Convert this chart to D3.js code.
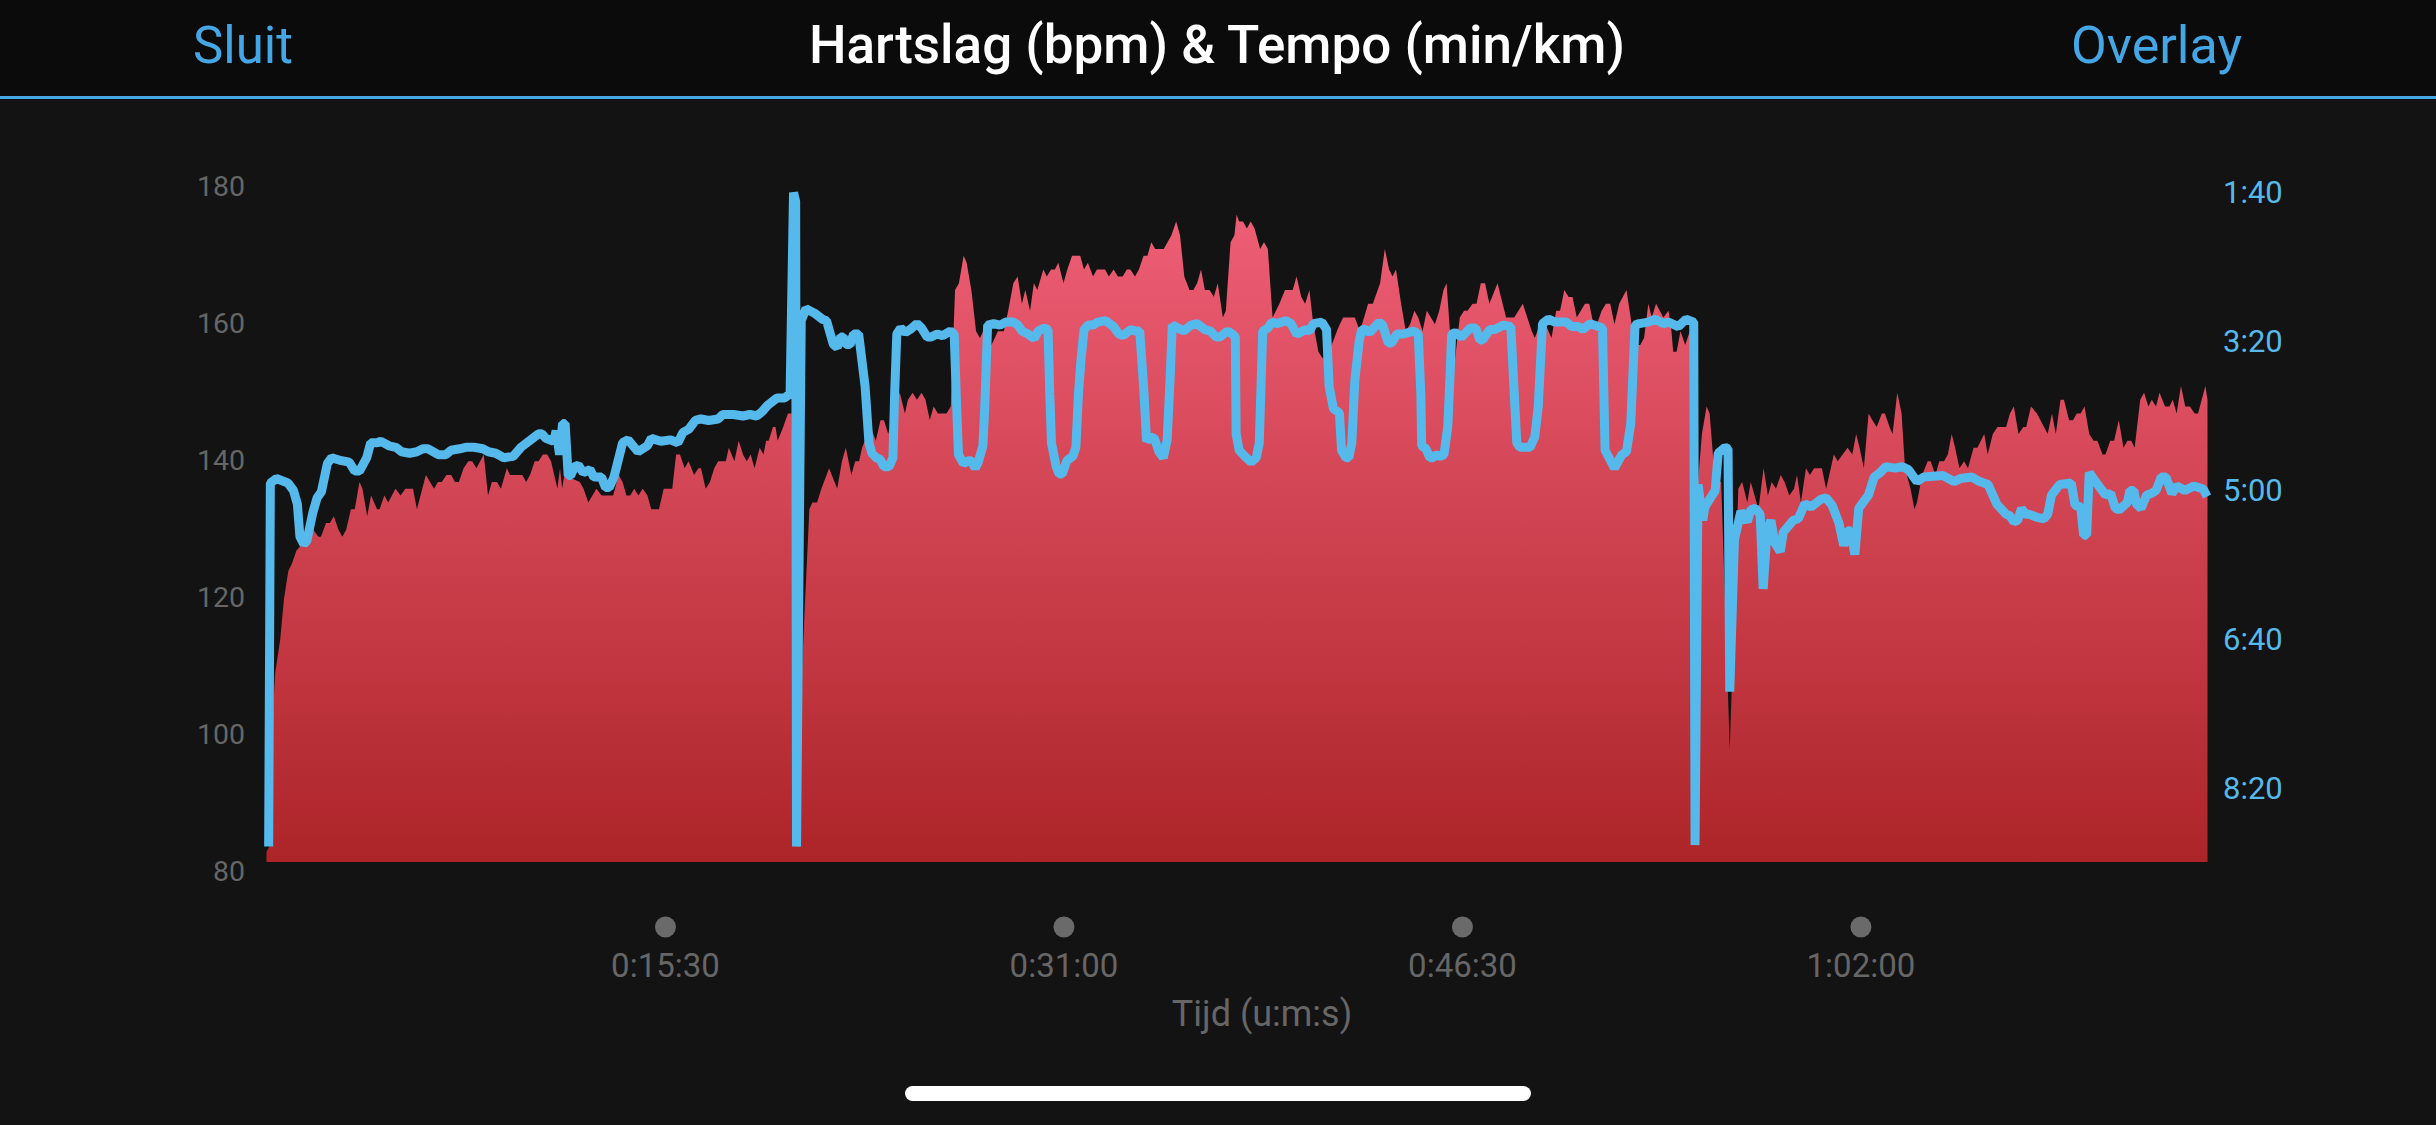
<!DOCTYPE html>
<html>
<head>
<meta charset="utf-8">
<script src="https://cdn.jsdelivr.net/npm/d3@7"></script>
<style>
html, body { margin: 0; padding: 0; background: #131313; overflow: hidden; }
svg { display: block; }
</style>
</head>
<body>
<script>
// [seconds, bpm]
var heartRate = [[0,82],[9,83],[14,101],[20,108],[32,113],[41,119],[51,123],[59,124],[70,126],[85,127],[97,127],[109,129],[121,128],[127,128],[139,130],[148,130],[157,131],[168,129],[177,128],[186,129],[197,132],[206,132],[217,136],[224,135],[235,131],[244,134],[258,132],[264,132],[275,134],[284,133],[301,135],[313,134],[324,135],[342,135],[351,132],[372,137],[391,135],[400,136],[409,136],[420,137],[431,137],[440,136],[449,136],[460,138],[471,139],[480,139],[490,138],[507,140],[517,134],[526,136],[538,136],[547,135],[561,138],[568,137],[597,137],[606,136],[615,137],[626,139],[635,139],[645,140],[655,140],[664,139],[679,135],[685,138],[690,135],[695,137],[731,136],[740,135],[751,133],[770,135],[782,134],[809,134],[822,137],[831,136],[840,134],[849,134],[858,135],[868,134],[878,135],[889,134],[898,132],[916,132],[927,135],[947,135],[956,140],[965,140],[976,138],[985,139],[998,137],[1008,138],[1014,138],[1025,135],[1035,136],[1045,138],[1054,139],[1072,139],[1079,141],[1092,139],[1102,142],[1112,140],[1121,139],[1130,140],[1139,138],[1151,141],[1160,140],[1166,142],[1172,142],[1182,144],[1188,144],[1193,142],[1206,144],[1217,146],[1226,146],
[1232,84],[1246,103],[1255,116],[1267,132],[1274,133],[1285,133],[1295,135],[1313,138],[1332,135],[1343,139],[1352,141],[1365,137],[1374,139],[1383,139],[1390,141],[1410,144],[1422,142],[1433,145],[1441,145],[1451,143],[1466,147],[1478,149],[1490,146],[1497,148],[1508,149],[1518,148],[1529,149],[1538,148],[1548,145],[1557,147],[1567,146],[1587,146],[1597,147],[1607,164],[1616,165],[1627,169],[1634,168],[1645,164],[1656,158],[1665,157],[1681,159],[1692,156],[1707,158],[1721,158],[1731,161],[1743,165],[1753,166],[1763,162],[1771,164],[1782,161],[1791,165],[1799,164],[1813,167],[1821,166],[1831,167],[1840,167],[1848,168],[1860,165],[1869,167],[1880,169],[1899,169],[1908,167],[1917,168],[1929,166],[1938,167],[1957,167],[1966,166],[1977,167],[1987,166],[1998,166],[2008,167],[2016,167],[2027,166],[2036,167],[2047,169],[2056,169],[2065,171],[2074,170],[2094,170],[2112,172],[2123,174],[2132,172],[2142,166],[2154,164],[2163,164],[2172,165],[2181,167],[2190,164],[2201,164],[2211,163],[2220,165],[2232,160],[2239,161],[2250,171],[2259,172],[2264,175],[2270,174],[2279,174],[2288,173],[2297,174],[2306,173],[2319,170],[2328,171],[2337,170],[2348,160],[2364,162],[2377,164],[2395,164],[2404,166],[2415,163],[2424,162],[2434,164],[2443,159],[2455,155],[2465,154],[2486,156],[2498,158],[2505,159],[2513,160],[2540,160],[2552,158],[2571,162],[2582,162],[2599,165],[2610,170],[2620,167],[2628,166],[2636,167],[2648,162],[2659,158],[2669,159],[2679,161],[2688,160],[2698,158],[2708,161],[2727,159],[2737,161],[2747,164],[2754,165],[2762,158],[2774,154],[2785,160],[2795,161],[2803,161],[2815,162],[2824,162],[2834,165],[2844,165],[2854,162],[2873,165],[2885,162],[2893,160],[2912,160],[2932,162],[2953,158],[2960,157],[2972,159],[2985,159],[2999,157],[3010,161],[3019,161],[3029,164],[3039,163],[3048,163],[3058,160],[3077,162],[3087,162],[3097,159],[3105,159],[3116,161],[3126,162],[3136,162],[3146,159],[3157,162],[3174,164],[3186,159],[3194,156],[3206,156],[3215,157],[3225,162],[3233,160],[3243,162],[3260,160],[3272,161],[3279,158],[3283,155],[3291,155],[3300,158],[3311,156],[3322,158],
[3341,136],[3350,143],[3361,147],[3368,146],[3377,139],[3386,136],[3395,136],[3415,97],[3435,135],[3444,136],[3456,133],[3464,136],[3482,132],[3494,138],[3504,134],[3513,136],[3523,135],[3534,137],[3543,136],[3554,134],[3565,135],[3572,137],[3581,133],[3593,138],[3602,137],[3612,138],[3630,138],[3640,135],[3658,140],[3667,139],[3690,141],[3701,140],[3710,143],[3718,141],[3728,138],[3739,146],[3748,145],[3758,144],[3770,146],[3777,146],[3788,144],[3795,143],[3806,149],[3816,146],[3824,138],[3837,135],[3846,132],[3852,133],[3864,137],[3877,139],[3884,139],[3895,137],[3904,139],[3915,139],[3924,140],[3933,143],[3941,141],[3951,138],[3962,139],[3971,138],[3984,141],[3993,141],[4009,143],[4017,140],[4029,143],[4040,144],[4060,144],[4069,146],[4078,147],[4089,143],[4100,144],[4107,144],[4118,147],[4132,146],[4157,143],[4167,146],[4176,143],[4187,148],[4195,148],[4207,145],[4216,145],[4225,146],[4234,146],[4243,147],[4254,143],[4264,142],[4273,142],[4285,140],[4292,140],[4303,142],[4312,142],[4323,145],[4334,141],[4343,142],[4352,142],[4360,141],[4373,148],[4382,149],[4392,147],[4400,148],[4410,147],[4418,149],[4431,147],[4441,147],[4449,148],[4458,146],[4468,150],[4478,147],[4489,147],[4500,146],[4508,146],[4525,150],[4530,148]];

// [seconds, seconds per km]
var pace = [[5,540],[9,296],[23,293],[32,294],[50,296],[63,301],[72,310],[78,332],[87,337],[94,335],[108,316],[118,306],[128,302],[142,283],[152,279],[175,281],[193,282],[206,288],[217,288],[234,279],[243,269],[258,269],[267,268],[286,271],[302,272],[315,275],[334,276],[351,275],[365,273],[377,273],[401,277],[418,277],[431,274],[451,273],[465,272],[484,272],[505,273],[518,275],[535,276],[554,279],[576,278],[594,272],[635,263],[643,263],[652,266],[670,268],[676,261],[684,277],[691,256],[697,256],[704,291],[710,291],[719,285],[728,284],[739,289],[755,287],[764,292],[782,292],[791,299],[800,299],[811,292],[831,269],[844,267],[867,275],[889,271],[898,266],[920,268],[943,267],[960,269],[972,262],[985,260],[1001,254],[1014,253],[1032,254],[1054,253],[1065,250],[1090,250],[1112,251],[1128,250],[1144,251],[1157,248],[1169,244],[1191,239],[1209,239],[1222,236],
[1230,101],[1235,107],[1237,540],[1248,187],[1259,179],[1279,182],[1297,186],[1307,187],[1323,203],[1332,205],[1340,198],[1346,198],[1352,203],[1362,203],[1370,196],[1382,196],[1397,231],[1406,269],[1413,276],[1423,279],[1432,280],[1441,285],[1453,285],[1462,279],[1466,236],[1471,196],[1480,192],[1491,195],[1502,193],[1518,189],[1529,192],[1542,198],[1551,198],[1565,196],[1578,197],[1596,194],[1605,196],[1611,247],[1615,277],[1627,283],[1638,281],[1645,281],[1654,286],[1661,282],[1672,271],[1676,247],[1683,190],[1697,189],[1712,190],[1725,188],[1743,188],[1754,190],[1763,194],[1777,196],[1792,199],[1801,194],[1815,192],[1824,193],[1828,236],[1832,269],[1843,285],[1850,290],[1857,290],[1868,281],[1882,278],[1889,272],[1895,236],[1901,213],[1908,193],[1917,190],[1929,190],[1940,188],[1958,187],[1977,191],[1989,196],[1999,197],[2017,193],[2029,194],[2038,194],[2047,231],[2054,268],[2063,265],[2072,266],[2083,275],[2093,279],[2102,267],[2109,225],[2114,190],[2141,194],[2158,190],[2172,189],[2190,193],[2203,194],[2216,198],[2225,198],[2243,194],[2254,196],[2261,198],[2263,263],[2270,274],[2283,278],[2298,282],[2310,279],[2317,269],[2325,194],[2337,192],[2346,188],[2359,189],[2379,187],[2391,189],[2404,196],[2412,195],[2424,193],[2435,194],[2443,189],[2463,188],[2474,193],[2480,231],[2490,246],[2504,249],[2509,274],[2519,279],[2526,279],[2533,269],[2540,227],[2550,201],[2556,193],[2566,193],[2574,195],[2597,188],[2605,190],[2618,202],[2626,202],[2638,196],[2653,196],[2677,194],[2688,196],[2694,236],[2696,271],[2706,273],[2715,279],[2722,279],[2729,277],[2739,278],[2748,277],[2757,258],[2762,225],[2766,196],[2774,195],[2789,198],[2809,192],[2822,192],[2832,200],[2838,200],[2855,193],[2867,193],[2887,190],[2904,191],[2914,247],[2918,269],[2925,272],[2949,272],[2960,265],[2968,245],[2978,189],[2992,186],[3007,188],[3034,188],[3046,191],[3062,191],[3072,193],[3089,189],[3118,192],[3124,274],[3146,286],[3163,277],[3174,275],[3184,256],[3194,190],[3204,189],[3225,188],[3241,186],[3260,189],[3272,188],[3295,191],[3313,186],[3331,188],
[3334,539],[3341,297],[3352,321],[3357,312],[3381,301],[3388,276],[3404,272],[3411,273],[3415,436],[3426,334],[3441,315],[3456,322],[3464,314],[3475,313],[3486,317],[3493,367],[3502,328],[3511,321],[3520,336],[3533,342],[3540,329],[3563,321],[3575,320],[3590,310],[3605,312],[3627,307],[3640,306],[3654,311],[3670,323],[3681,338],[3690,328],[3697,328],[3707,344],[3716,313],[3739,304],[3752,292],[3766,289],[3779,285],[3801,286],[3817,285],[3832,287],[3852,295],[3868,292],[3913,291],[3938,295],[3953,293],[3980,292],[3998,295],[4018,297],[4038,310],[4060,317],[4069,318],[4078,322],[4087,321],[4096,313],[4105,317],[4114,317],[4132,319],[4148,320],[4157,317],[4166,304],[4185,297],[4212,296],[4221,311],[4234,312],[4241,331],[4248,331],[4254,289],[4266,294],[4292,304],[4304,303],[4315,313],[4324,314],[4343,309],[4349,301],[4358,301],[4364,310],[4375,313],[4388,304],[4399,303],[4410,301],[4422,292],[4433,292],[4447,303],[4458,298],[4477,301],[4498,298],[4520,300],[4529,305]];

var hrTicks = [80,100,120,140,160,180];
var paceTicks = [100,200,300,400,500];
var timeTicks = [930,1860,2790,3720];
var title = "Hartslag (bpm) & Tempo (min/km)";
var timeLabel = "Tijd (u:m:s)";

var width = 2436, height = 1125;
var plotTop = 216, plotBottom = 862;

function fmtPace(s){ return Math.floor(s/60)+":"+d3.format("02d")(s%60); }
function fmtTime(s){ return Math.floor(s/3600)+":"+d3.format("02d")(Math.floor(s/60)%60)+":"+d3.format("02d")(s%60); }

var x = d3.scaleLinear().domain([0,4530]).range([266.5,2207.5]);
var yHr = d3.scaleLinear().domain([80,180]).range([865.5,180.5]);
var yPace = d3.scaleLinear().domain([100,500]).range([191,787]);

var svg = d3.select("body").append("svg").attr("width",width).attr("height",height);

var grad = svg.append("defs").append("linearGradient")
    .attr("id","hrFill").attr("gradientUnits","userSpaceOnUse")
    .attr("x1",0).attr("x2",0).attr("y1",plotTop).attr("y2",plotBottom);
grad.append("stop").attr("offset","0%").attr("stop-color","#ee5e76");
grad.append("stop").attr("offset","100%").attr("stop-color","#ad2428");

svg.append("rect").attr("width",width).attr("height",height).attr("fill","#131313");

//header
svg.append("rect").attr("width",width).attr("height",96).attr("fill","#0b0b0b");
svg.append("rect").attr("y",96).attr("width",width).attr("height",3).attr("fill","#45a6e6");
svg.append("text").attr("x",193).attr("y",63).attr("fill","#45a6e6")
    .style("font",'400 51px Roboto').text("Sluit");
svg.append("text").attr("x",2242).attr("y",63).attr("fill","#45a6e6").attr("text-anchor","end")
    .style("font",'400 52px Roboto').text("Overlay");
svg.append("text").attr("x",1217).attr("y",63).attr("fill","#fff").attr("text-anchor","middle")
    .style("font",'500 53px Roboto').text(title);

//heart rate area
var area = d3.area()
    .x(function(d){ return x(d[0]); })
    .y0(plotBottom)
    .y1(function(d){ return yHr(d[1]); });
svg.append("path").attr("d",area(heartRate)).attr("fill","url(#hrFill)");

//pace line
var line = d3.line()
    .x(function(d){ return x(d[0]); })
    .y(function(d){ return yPace(d[1]); });
svg.append("path").attr("d",line(pace))
    .attr("fill","none").attr("stroke","#56b9eb").attr("stroke-width",9)
    .attr("stroke-linejoin","bevel");

//axes
var leftAxis = svg.append("g").attr("transform","translate(245,6)")
    .call(d3.axisLeft(yHr).tickValues(hrTicks).tickSize(0).tickPadding(0));
var rightAxis = svg.append("g").attr("transform","translate(2223,1.5)")
    .call(d3.axisRight(yPace).tickValues(paceTicks).tickSize(0).tickPadding(0).tickFormat(fmtPace));
var bottomAxis = svg.append("g").attr("transform","translate(0,927)")
    .call(d3.axisBottom(x).tickValues(timeTicks).tickSize(0).tickPadding(0).tickFormat(fmtTime));
svg.selectAll(".domain").remove();

leftAxis.selectAll("text").attr("fill","#666").style("font","400 28.5px Roboto");
rightAxis.selectAll("text").attr("fill","#56b9eb").style("font","400 31px Roboto");
bottomAxis.selectAll("text").attr("fill","#666").attr("y",38.5).attr("dy","0.35em").style("font","400 33px Roboto");
bottomAxis.selectAll(".tick").append("circle").attr("r",10.5).attr("fill","#6a6a6a");

svg.append("text").attr("x",1262).attr("y",1013).attr("dy","0.35em").attr("text-anchor","middle")
    .attr("fill","#666").style("font","400 36px Roboto").text(timeLabel);

//home indicator
svg.append("rect").attr("x",905).attr("y",1086).attr("width",626).attr("height",15).attr("rx",7.5).attr("fill","#fff");
</script>
</body>
</html>
